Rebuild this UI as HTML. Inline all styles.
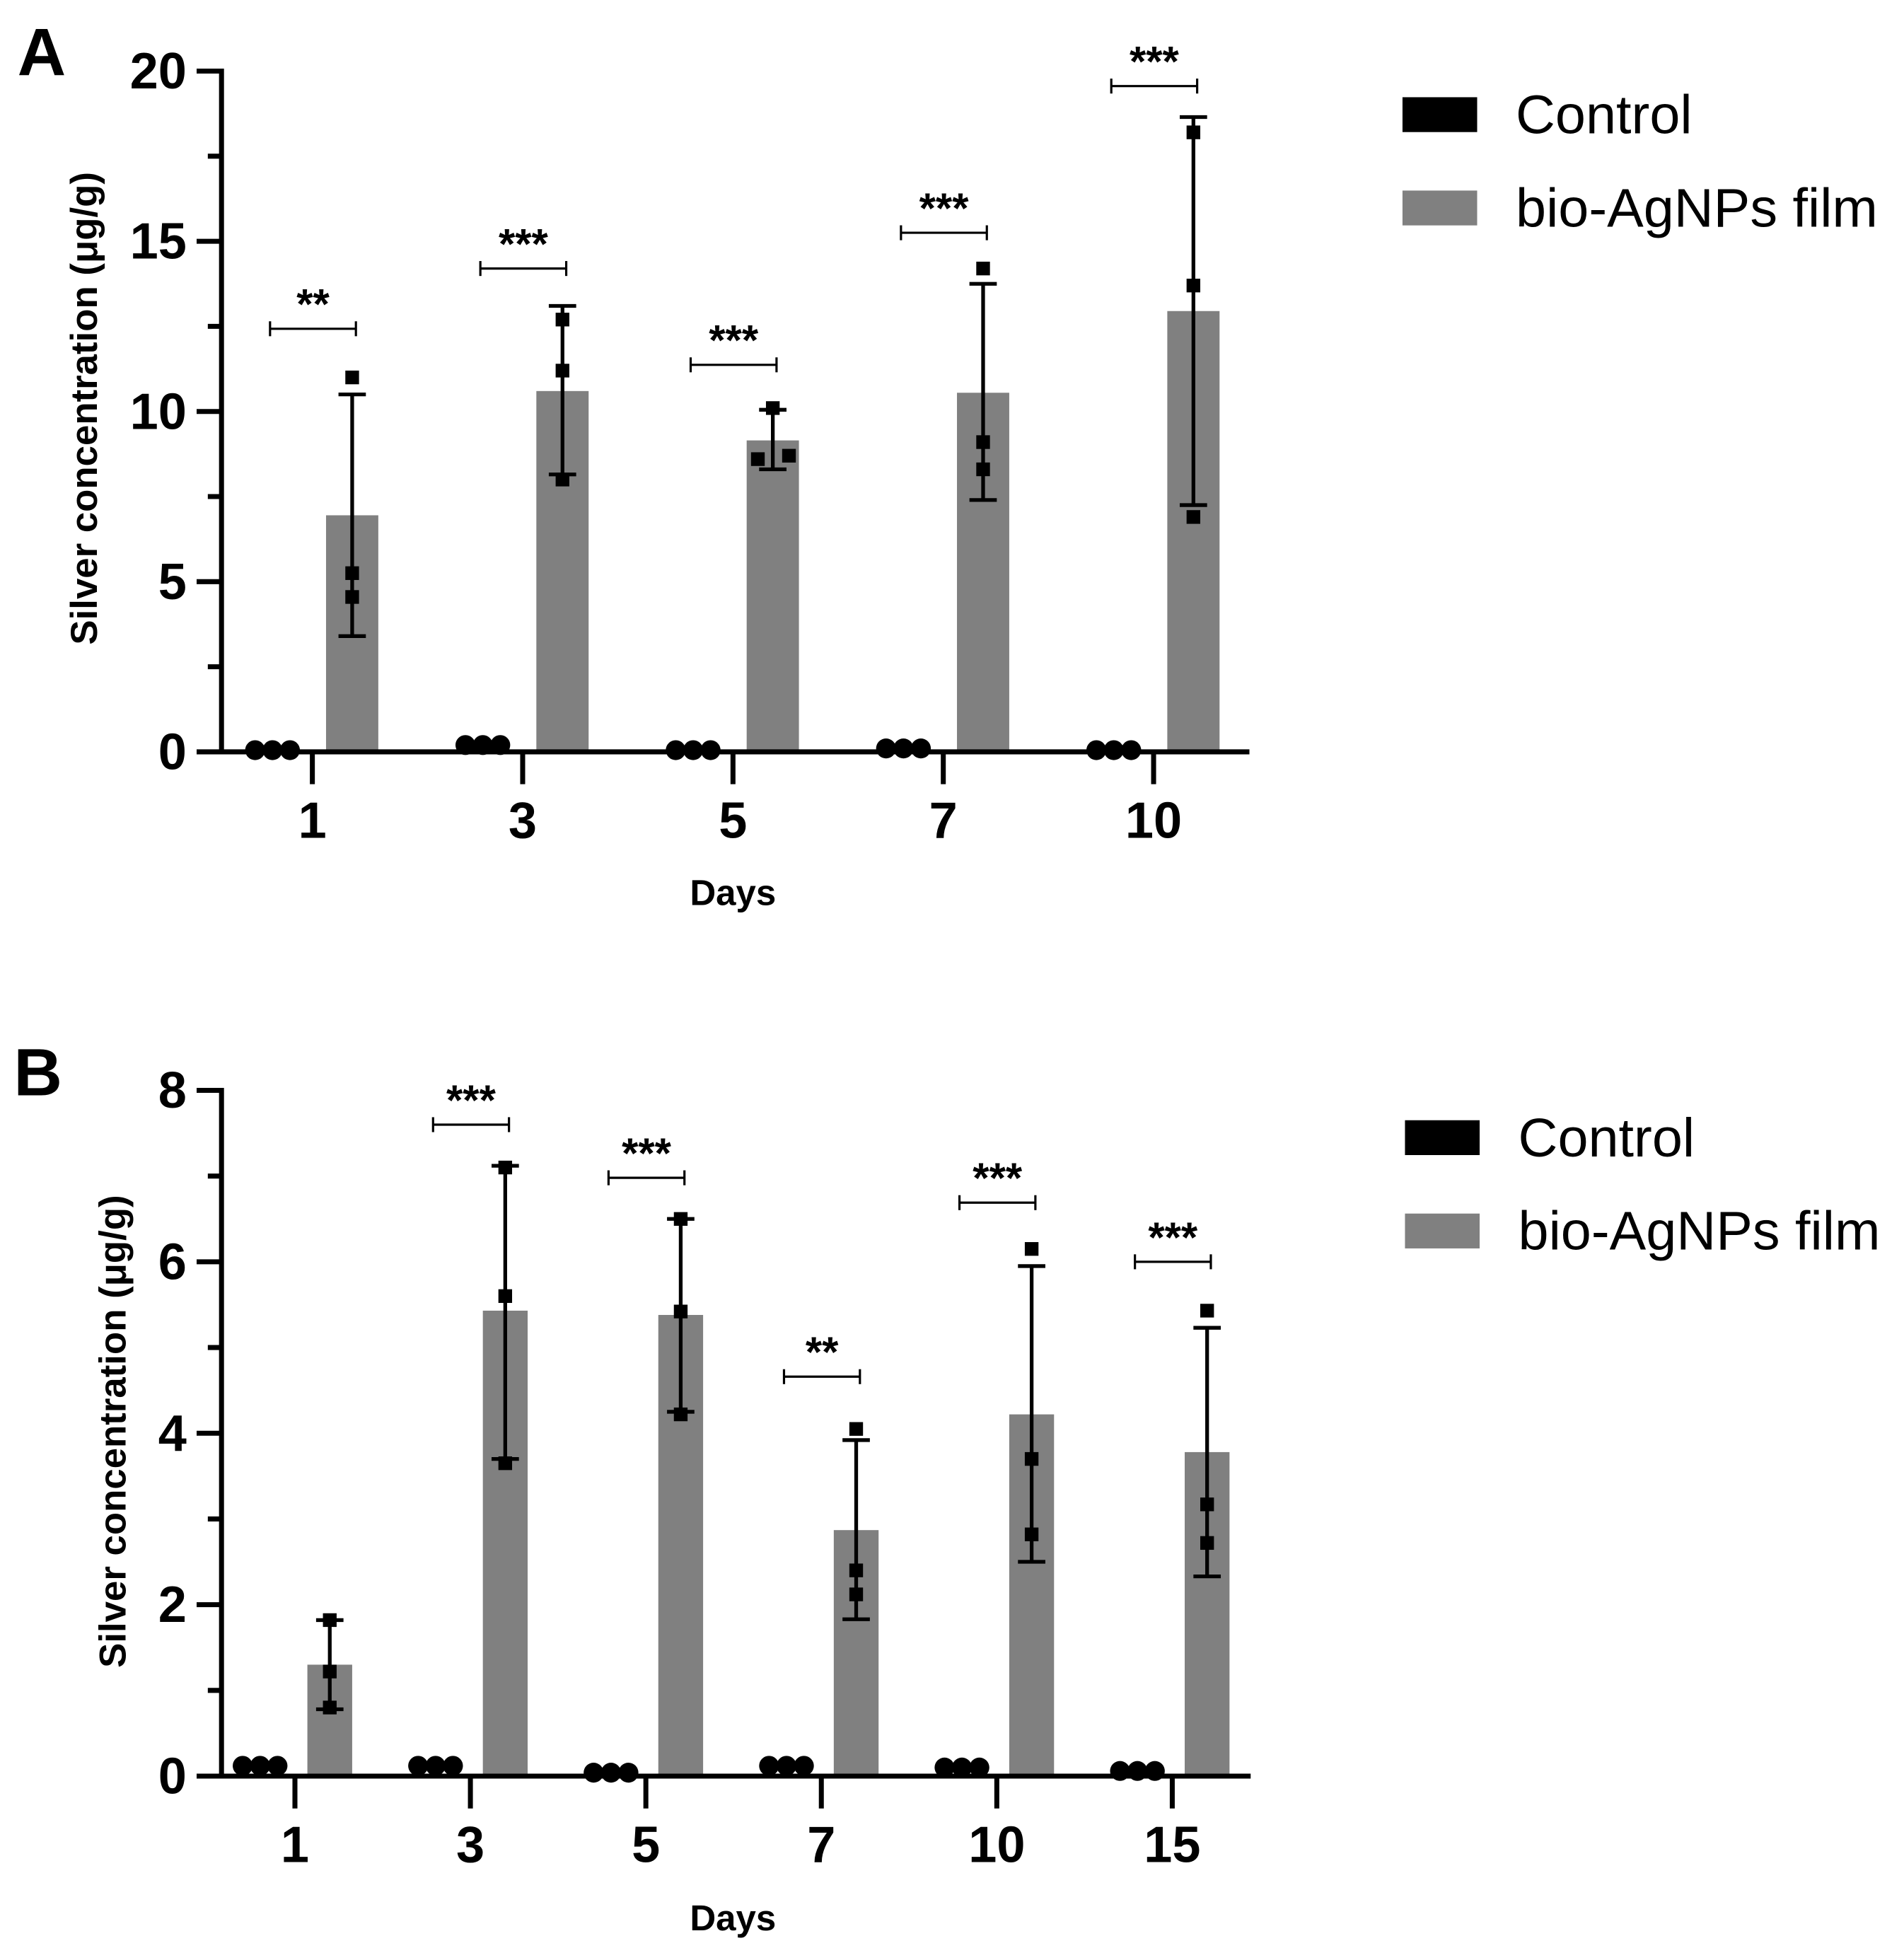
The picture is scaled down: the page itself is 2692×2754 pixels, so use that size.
<!DOCTYPE html>
<html><head><meta charset="utf-8"><style>
html,body{margin:0;padding:0;background:#fff;}
svg{display:block;}
text{font-family:"Liberation Sans",Arial,sans-serif;}
</style></head>
<body>
<svg id="chart" width="2692" height="2754" viewBox="0 0 1530 1565" xmlns="http://www.w3.org/2000/svg">
</svg>
<script>
// ---- Panel A data ----
const catsA = ["1","3","5","7","10"];
const ctrlA = [0.05, 0.2, 0.05, 0.1, 0.05];
const meanA = [6.95, 10.6, 9.15, 10.55, 12.95];
const errLoA = [3.4, 8.15, 8.3, 7.4, 7.25];
const errHiA = [10.5, 13.1, 10.05, 13.75, 18.65];
const ptsA = [[11.0,5.25,4.55],[12.7,11.2,8.0],[10.1,8.6,8.7],[14.2,9.1,8.3],[18.2,13.7,6.9]];
const sigA = ["**","***","***","***","***"];
const sigYA = [12.43, 14.2, 11.37, 15.25, 19.56];
const ticksA = [0,5,10,15,20];
// ---- Panel B data ----
const catsB = ["1","3","5","7","10","15"];
const ctrlB = [0.12, 0.12, 0.04, 0.12, 0.1, 0.06];
const meanB = [1.3, 5.43, 5.38, 2.87, 4.22, 3.78];
const errLoB = [0.78, 3.7, 4.25, 1.83, 2.5, 2.33];
const errHiB = [1.82, 7.12, 6.5, 3.92, 5.95, 5.23];
const ptsB = [[1.82,1.22,0.8],[7.1,5.6,3.65],[6.5,5.42,4.22],[4.05,2.4,2.12],[6.15,3.7,2.82],[5.43,3.17,2.72]];
const sigB = ["","***","***","**","***","***"];
const sigYB = [0, 7.6, 6.98, 4.66, 6.69, 6.0];
const ticksB = [0,2,4,6,8];

const NS="http://www.w3.org/2000/svg";
const svg=document.getElementById('chart');
function mk(tag,attrs,parent,txt){const e=document.createElementNS(NS,tag);for(const k in attrs)e.setAttribute(k,attrs[k]);if(txt!==undefined)e.textContent=txt;(parent||svg).appendChild(e);return e;}

function panel(o){
  const g=mk('g',{});
  
  
  const y=v=>o.y0-(v/o.ymax)*(o.y0-o.yTop);
  const x=i=>o.x0+i*o.dx;
  const L=mk('text',{x:o.letterX,y:o.letterY,'font-size':54,'font-weight':'bold'},g,o.letter);
  
  
  o.means.forEach((m,i)=>{
    const r=mk('rect',{x:x(i)+o.off-o.bw/2,y:y(m),width:o.bw,height:y(0)-y(m),fill:'#808080'},g);
    
    
  });
  o.means.forEach((m,i)=>{
    const cx=x(i)+o.off;
    const eg=mk('g',{stroke:'#000','stroke-width':3},g);
    
    
    mk('line',{x1:cx,x2:cx,y1:y(o.hi[i]),y2:y(o.lo[i])},eg);
    mk('line',{x1:cx-11,x2:cx+11,y1:y(o.hi[i]),y2:y(o.hi[i])},eg);
    mk('line',{x1:cx-11,x2:cx+11,y1:y(o.lo[i]),y2:y(o.lo[i])},eg);
  });
  o.pts.forEach((arr,i)=>{
    arr.forEach((v,j)=>{
      const dxo=(o.ptOff&&o.ptOff[i])?o.ptOff[i][j]:0;
      const p=mk('rect',{x:x(i)+o.off+dxo-5.5,y:y(v)-5.5,width:11,height:11,fill:'#000'},g);
      
      
    });
  });
  o.ctrl.forEach((v,i)=>{
    [-14,0,14].forEach(d=>{
      const c=mk('circle',{cx:x(i)-o.off+d,cy:y(v),r:8,fill:'#000'},g);
      
      
    });
  });
  const ax=mk('g',{stroke:'#000','stroke-width':4},g);
  
  
  mk('line',{x1:o.ax,x2:o.ax,y1:o.yTop-2,y2:o.y0+2},ax);
  mk('line',{x1:o.ax-2,x2:o.axEnd,y1:o.y0,y2:o.y0},ax);
  o.ticks.forEach((t,k)=>{
    mk('line',{x1:o.ax-20,x2:o.ax,y1:y(t),y2:y(t)},ax);
    if(k<o.ticks.length-1){const mv=(t+o.ticks[k+1])/2;mk('line',{x1:o.ax-11,x2:o.ax,y1:y(mv),y2:y(mv)},ax);}
    const tl=mk('text',{x:o.ax-28,y:y(t)+14,'font-size':41,'font-weight':'bold','text-anchor':'end',stroke:'none'},g,String(t));
    
    
  });
  o.cats.forEach((c,i)=>{
    mk('line',{x1:x(i),x2:x(i),y1:o.y0,y2:o.y0+26},ax);
    const tl=mk('text',{x:x(i),y:o.y0+69,'font-size':41,'font-weight':'bold','text-anchor':'middle'},g,c);
    
    
  });
  o.sig.forEach((s,i)=>{
    if(!s)return;
    const x1=x(i)-o.off-2,x2=x(i)+o.off+3,yy=y(o.sigY[i]);
    const sg=mk('g',{stroke:'#000','stroke-width':1.8},g);
    
    
    mk('line',{x1:x1,x2:x2,y1:yy,y2:yy},sg);
    mk('line',{x1:x1,x2:x1,y1:yy-6,y2:yy+6},sg);
    mk('line',{x1:x2,x2:x2,y1:yy-6,y2:yy+6},sg);
    const st=mk('text',{x:(x1+x2)/2,y:yy-8,'font-size':34,'font-weight':'bold','text-anchor':'middle'},g,s);
    
    
  });
  const xt=mk('text',{x:o.xTitleX,y:o.xTitleY,'font-size':29,'font-weight':'bold','text-anchor':'middle'},g,'Days');
  
  
  const yt=mk('text',{x:0,y:0,'font-size':30,'font-weight':'bold','text-anchor':'middle',transform:`translate(${o.yTitleX},${o.yTitleY}) rotate(-90)`},g,'Silver concentration (μg/g)');
  
  
  const lg=mk('g',{},g);
  
  
  const e1=mk('g',{},lg);
  
  
  mk('rect',{x:o.legX,y:o.legY,width:60,height:28,fill:'#000'},e1);
  mk('text',{x:o.legX+91,y:o.legY+29,'font-size':44},e1,'Control');
  const e2=mk('g',{},lg);
  
  
  mk('rect',{x:o.legX,y:o.legY+75,width:60,height:28,fill:'#808080'},e2);
  mk('text',{x:o.legX+91,y:o.legY+104,'font-size':44},e2,'bio-AgNPs film');
}

panel({name:'panel-a',letter:'A',letterX:14,letterY:60,cats:catsA,ctrl:ctrlA,means:meanA,lo:errLoA,hi:errHiA,pts:ptsA,
  ptOff:[null,null,[0,-12,13],null,null],
  sig:sigA,sigY:sigYA,ticks:ticksA,ymax:20,yTop:57,y0:604,ax:178,axEnd:1004,x0:251,dx:169,off:32,bw:42,
  xTitleX:589,xTitleY:727,yTitleX:78,yTitleY:328,legX:1127,legY:78});
panel({name:'panel-b',letter:'B',letterX:11,letterY:880,cats:catsB,ctrl:ctrlB,means:meanB,lo:errLoB,hi:errHiB,pts:ptsB,
  sig:sigB,sigY:sigYB,ticks:ticksB,ymax:8,yTop:876,y0:1427,ax:178,axEnd:1005,x0:237,dx:141,off:28,bw:36,
  xTitleX:589,xTitleY:1551,yTitleX:101,yTitleY:1150,legX:1129,legY:900});
</script>
</body></html>
